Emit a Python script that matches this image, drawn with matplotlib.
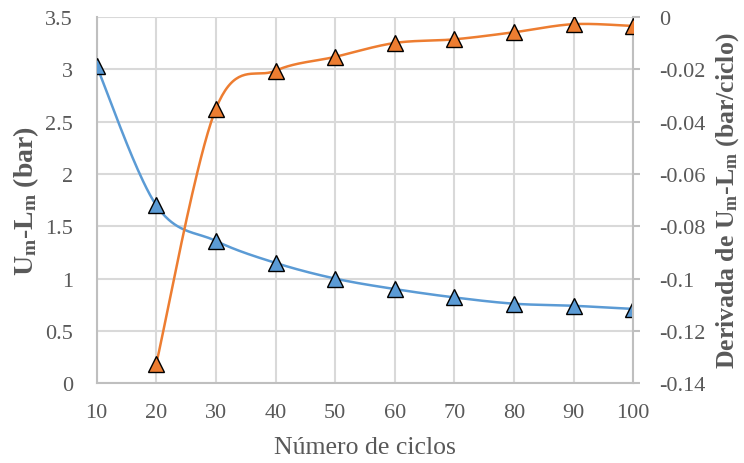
import numpy as np
import matplotlib
matplotlib.use("Agg")
import matplotlib.pyplot as plt

plt.rcParams['font.family'] = ['Liberation Serif', 'DejaVu Serif']
plt.rcParams['mathtext.fontset'] = 'custom'
plt.rcParams['mathtext.rm'] = 'Liberation Serif'
plt.rcParams['mathtext.bf'] = 'Liberation Serif:bold'
plt.rcParams['mathtext.it'] = 'Liberation Serif:italic'

ciclos = [10, 20, 30, 40, 50, 60, 70, 80, 90, 100]
um_lm = [3.03, 1.70, 1.36, 1.15, 1.00, 0.90, 0.82, 0.76, 0.74, 0.71]
ciclos_deriv = [20, 30, 40, 50, 60, 70, 80, 90, 100]
derivada = [-0.1325, -0.035, -0.0205, -0.0152, -0.0099, -0.0085, -0.0058, -0.0027, -0.0034]

left_ticks = [0, 0.5, 1, 1.5, 2, 2.5, 3, 3.5]
right_ticks = [0, -0.02, -0.04, -0.06, -0.08, -0.1, -0.12, -0.14]
x_ticks = [10, 20, 30, 40, 50, 60, 70, 80, 90, 100]

BLUE = '#5B9BD5'
ORANGE = '#ED7D31'
GRID = '#d9d9d9'
TXT = '#595959'

AX_W_PX, AX_H_PX = 536.0, 366.0


def smooth(x, y, xr, yr, n=40):
    """Catmull-Rom style Bezier smoothing computed in screen-proportional space."""
    x = np.asarray(x, float)
    y = np.asarray(y, float)
    px = (x - xr[0]) / (xr[1] - xr[0]) * AX_W_PX
    py = (y - yr[0]) / (yr[1] - yr[0]) * AX_H_PX
    P = np.column_stack([px, py])
    P = np.vstack([P[0], P, P[-1]])
    out = []
    t = np.linspace(0, 1, n)[:, None]
    for i in range(1, len(P) - 2):
        p0, p1, p2, p3 = P[i - 1], P[i], P[i + 1], P[i + 2]
        b1 = p1 + (p2 - p0) / 6
        b2 = p2 - (p3 - p1) / 6
        seg = ((1 - t) ** 3) * p1 + 3 * ((1 - t) ** 2) * t * b1 + 3 * (1 - t) * t ** 2 * b2 + t ** 3 * p2
        out.append(seg if i == 1 else seg[1:])
    s = np.vstack(out)
    return (s[:, 0] / AX_W_PX * (xr[1] - xr[0]) + xr[0],
            s[:, 1] / AX_H_PX * (yr[1] - yr[0]) + yr[0])


fig = plt.figure(figsize=(7.44, 4.64), dpi=100)
ax = fig.add_axes([0.130, 0.172, 0.721, 0.789])
ax2 = ax.twinx()

xr = (10, 100)
yl = (0, 3.5)
yr2 = (-0.14, 0)

ax.set_xlim(*xr)
ax.set_ylim(*yl)
ax2.set_ylim(*yr2)

ax.set_xticks(x_ticks)
ax.set_yticks(left_ticks)
ax.set_yticklabels(['0', '0.5', '1', '1.5', '2', '2.5', '3', '3.5'])
ax2.set_yticks(right_ticks)
ax2.set_yticklabels(['0', '-0.02', '-0.04', '-0.06', '-0.08', '-0.1', '-0.12', '-0.14'])

ax.grid(True, color=GRID, linewidth=1.5)
ax.set_axisbelow(True)

for a in (ax, ax2):
    for s in a.spines.values():
        s.set_visible(False)
ax.spines['left'].set_visible(True)
ax.spines['bottom'].set_visible(True)
ax2.spines['right'].set_visible(True)
for s in (ax.spines['left'], ax.spines['bottom'], ax2.spines['right']):
    s.set_color('#bfbfbf')
    s.set_linewidth(1.5)

ax.tick_params(axis='x', length=0, labelsize=16, labelcolor=TXT, pad=14)
ax.tick_params(axis='y', length=0, labelsize=16, labelcolor=TXT, pad=17)
ax2.tick_params(axis='y', length=5, width=1.5, color='#bfbfbf', labelsize=16, labelcolor=TXT, pad=14)

bx, by = smooth(ciclos, um_lm, xr, yl)
ax.plot(bx, by, color=BLUE, linewidth=1.8, zorder=3)
ax.plot(ciclos, um_lm, linestyle='none', marker='^', markersize=11,
        markerfacecolor=BLUE, markeredgecolor='black', markeredgewidth=1.0, zorder=4)

ox, oy = smooth(ciclos_deriv, derivada, xr, yr2)
ax2.plot(ox, oy, color=ORANGE, linewidth=1.8, zorder=3)
ax2.plot(ciclos_deriv, derivada, linestyle='none', marker='^', markersize=11,
         markerfacecolor=ORANGE, markeredgecolor='black', markeredgewidth=1.0, zorder=4)

ax.set_xlabel('Número de ciclos', fontsize=18.5, color=TXT, labelpad=10)
ax.set_ylabel(r'$\mathbf{U_m}$-$\mathbf{L_m}$ (bar)', fontsize=20, color=TXT,
              fontweight='bold', labelpad=3)
ax2.set_ylabel(r'Derivada de $\mathbf{U_m}$-$\mathbf{L_m}$ (bar/ciclo)', fontsize=18.5,
               color=TXT, fontweight='bold', labelpad=6)

fig.savefig('out.png', dpi=100)
